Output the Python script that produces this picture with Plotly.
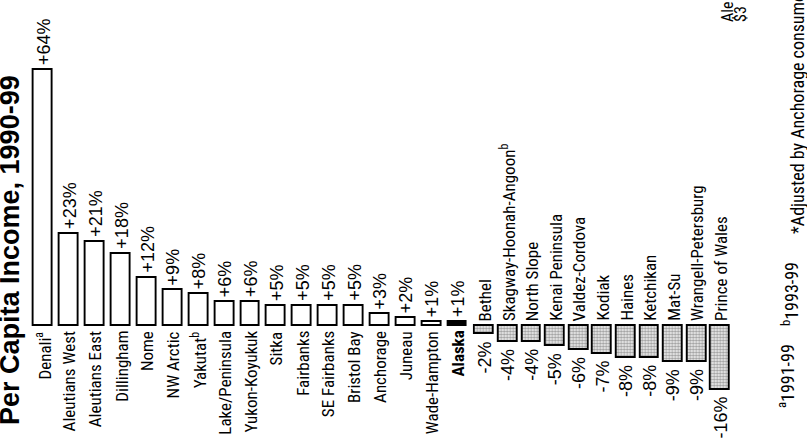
import plotly.graph_objects as go

# Change in per capita income by census area, 1990-99 (percent)
areas = [
    "Denali<sup>a</sup>", "Aleutians West", "Aleutians East", "Dillingham", "Nome",
    "NW Arctic", "Yakutat<sup>b</sup>", "Lake/Peninsula", "Yukon-Koyukuk", "Sitka",
    "Fairbanks", "SE Fairbanks", "Bristol Bay", "Anchorage", "Juneau",
    "Wade-Hampton", "Alaska", "Bethel", "Skagway-Hoonah-Angoon<sup>b</sup>",
    "North Slope", "Kenai Peninsula", "Valdez-Cordova", "Kodiak", "Haines",
    "Ketchikan", "Mat-Su", "Wrangell-Petersburg", "Prince of Wales",
]
change_pct = [
    64, 23, 21, 18, 12, 9, 8, 6, 6, 5, 5, 5, 5, 3, 2, 1, 1,
    -2, -4, -4, -5, -6, -7, -8, -8, -9, -9, -16,
]
value_labels = [
    "+64%", "+23%", "+21%", "+18%", "+12%", "+9%", "+8%", "+6%", "+6%", "+5%",
    "+5%", "+5%", "+5%", "+3%", "+2%", "+1%", "+1%",
    "-2%", "-4%", "-4%", "-5%", "-6%", "-7%", "-8%", "-8%", "-9%", "-9%", "-16%",
]
statewide = "Alaska"
title_text = "Per Capita Income, 1990-99"
footnotes = ["<sup>a</sup>1991-99", "<sup>b</sup>1993-99",
             "*Adjusted by Anchorage consumer price index"]
neighbor_text = ["Ale", "$3"]

W, H = 807, 442
LABEL_FONT = "Roboto Condensed, Liberation Sans Narrow, sans-serif"
VALUE_FONT = "Liberation Sans, Arial, sans-serif"

gain = [(a, v, t) for a, v, t in zip(areas, change_pct, value_labels) if v > 0]
loss = [(a, v, t) for a, v, t in zip(areas, change_pct, value_labels) if v <= 0]

fig = go.Figure()

# gains (and the statewide figure) on the left-hand category axis
fig.add_trace(go.Bar(
    x=[g[0] for g in gain], y=[g[1] for g in gain],
    xaxis="x", yaxis="y", width=0.73,
    marker=dict(color=["black" if g[0] == statewide else "white" for g in gain],
                line=dict(color="black", width=1.9)),
    hoverinfo="skip", showlegend=False,
))
# declines, stippled, on the right-hand category axis
fig.add_trace(go.Bar(
    x=[l[0] for l in loss], y=[l[1] for l in loss],
    xaxis="x2", yaxis="y", width=0.8,
    marker=dict(color="white",
                line=dict(color="black", width=1.9),
                pattern=dict(shape=".", fgcolor="#4a4a4a", bgcolor="#f2f2f2",
                             size=3, solidity=0.5)),
    hoverinfo="skip", showlegend=False,
))

annotations = []
for name, v, txt in gain:
    bold = name == statewide
    annotations.append(dict(
        x=name, y=0, xref="x", yref="y", text=f"<b>{name}</b>" if bold else name,
        textangle=-90, showarrow=False, xanchor="center", yanchor="top", yshift=-3,
        font=dict(family=LABEL_FONT, size=17, color="black")))
    annotations.append(dict(
        x=name, y=v, xref="x", yref="y", text=txt,
        textangle=-90, showarrow=False, xanchor="center", yanchor="bottom", yshift=3,
        font=dict(family=VALUE_FONT, size=18, color="black")))
for name, v, txt in loss:
    annotations.append(dict(
        x=name, y=0, xref="x2", yref="y", text=name,
        textangle=-90, showarrow=False, xanchor="center", yanchor="bottom", yshift=3,
        font=dict(family=LABEL_FONT, size=17, color="black")))
    annotations.append(dict(
        x=name, y=v, xref="x2", yref="y", text=txt,
        textangle=-90, showarrow=False, xanchor="center", yanchor="top", yshift=-5,
        font=dict(family=VALUE_FONT, size=18, color="black")))

# chart title along the left edge
annotations.append(dict(
    x=10 / W, y=1 - 250 / H, xref="paper", yref="paper", text=f"<b>{title_text}</b>",
    textangle=-90, showarrow=False, xanchor="center", yanchor="middle",
    font=dict(family=VALUE_FONT, size=27, color="black")))

# source notes along the right edge
note_bottoms = [410, 328, 236]
note_x = [786, 790, 797]
for txt, yb, xp in zip(footnotes, note_bottoms, note_x):
    annotations.append(dict(
        x=xp / W, y=1 - yb / H, xref="paper", yref="paper", text=txt,
        textangle=-90, showarrow=False, xanchor="center", yanchor="bottom",
        font=dict(family=LABEL_FONT, size=18, color="black")))

# start of the neighbouring panel, cut by the edge
for txt, xp in zip(neighbor_text, [727, 740]):
    annotations.append(dict(
        x=xp / W, y=1 - 24 / H, xref="paper", yref="paper", text=txt,
        textangle=-90, showarrow=False, xanchor="center", yanchor="bottom",
        font=dict(family=LABEL_FONT, size=16, color="black")))

fig.update_layout(
    width=W, height=H,
    margin=dict(l=0, r=0, t=0, b=0),
    paper_bgcolor="white", plot_bgcolor="white",
    xaxis=dict(domain=[30.56 / W, 470.5 / W], range=[-0.5, len(gain) - 0.5],
               visible=False, fixedrange=True),
    xaxis2=dict(domain=[472.7 / W, 732.3 / W], range=[-0.5, len(loss) - 0.5],
                anchor="y", visible=False, fixedrange=True),
    yaxis=dict(range=[-29, 81.5], domain=[0, 1], visible=False, fixedrange=True),
    annotations=annotations,
    bargap=0,
)

fig.write_html("out.html")
